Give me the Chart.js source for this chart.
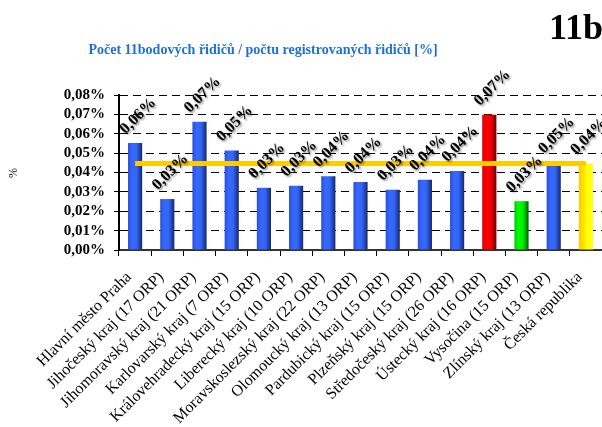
<!DOCTYPE html>
<html lang="cs">
<head>
<meta charset="utf-8">
<title>Počet 11bodových řidičů</title>
<script src="https://cdn.jsdelivr.net/npm/chart.js@4/dist/chart.umd.min.js"></script>
<style>
    body { margin: 0; background: #fff; }
    #wrap { width: 602px; height: 427px; position: relative; }
</style>
</head>
<body>
<div id="wrap"><canvas id="pointsChart" width="602" height="427"></canvas></div>
<script>
const regions = [
    'Hlavní město Praha',
    'Jihočeský kraj (17 ORP)',
    'Jihomoravský kraj (21 ORP)',
    'Karlovarský kraj (7 ORP)',
    'Královehradecký kraj (15 ORP)',
    'Liberecký kraj (10 ORP)',
    'Moravskoslezský kraj (22 ORP)',
    'Olomoucký kraj (13 ORP)',
    'Pardubický kraj (15 ORP)',
    'Plzeňský kraj (15 ORP)',
    'Středočeský kraj (26 ORP)',
    'Ústecký kraj (16 ORP)',
    'Vysočina (15 ORP)',
    'Zlínský kraj (13 ORP)',
    'Česká republika'
];
// podíl řidičů s 11 body v %
const shares = [0.0552, 0.0263, 0.0662, 0.0513, 0.0321, 0.0332, 0.0381, 0.0351, 0.0311, 0.0362, 0.0408, 0.0698, 0.0252, 0.0452, 0.0447];
const nationalAvg = 0.0447;
const yTicks = [0, 0.01, 0.02, 0.03, 0.04, 0.05, 0.06, 0.07, 0.08];

// barvy sloupců: nejvyšší, nejnižší, celá ČR
const barKinds = ['blue', 'blue', 'blue', 'blue', 'blue', 'blue', 'blue', 'blue', 'blue', 'blue', 'blue', 'red', 'green', 'blue', 'yellow'];
const gradients = {
    blue:   ['#2b50d8', '#3668ff', '#3266f6', '#17286e'],
    red:    ['#d80000', '#ff0000', '#f40000', '#6a0000'],
    green:  ['#00c800', '#00ff00', '#00ee00', '#006000'],
    yellow: ['#ffc800', '#ffe000', '#ffff00', '#ffff20']
};

const fmt = v => v.toFixed(2).replace('.', ',') + '%';
const serif = '"Liberation Serif", "Times New Roman", serif';

function barFill(ctx) {
    const kind = barKinds[ctx.dataIndex] || 'blue';
    const stops = gradients[kind];
    const chart = ctx.chart;
    if (ctx.type !== 'data' || !chart.chartArea) return stops[1];
    const x = chart.scales.x.getPixelForValue(ctx.dataIndex);
    const g = chart.ctx.createLinearGradient(x - 7, 0, x + 7, 0);
    g.addColorStop(0, stops[0]);
    g.addColorStop(0.3, stops[1]);
    g.addColorStop(0.6, stops[2]);
    g.addColorStop(1, stops[3]);
    return g;
}

// popisky hodnot nad sloupci, otočené o 45°
const valueLabels = {
    id: 'valueLabels',
    afterDatasetsDraw(chart) {
        const c = chart.ctx;
        const meta = chart.getDatasetMeta(1);
        c.save();
        c.font = 'bold 16px ' + serif;
        c.textAlign = 'center';
        c.textBaseline = 'middle';
        meta.data.forEach((bar, i) => {
            c.save();
            c.translate(bar.x + 3, bar.y - 27);
            c.rotate(-Math.PI / 4);
            c.shadowColor = 'rgba(0,0,0,0.45)';
            c.shadowOffsetX = 1.5;
            c.shadowOffsetY = 1.5;
            c.shadowBlur = 2;
            c.fillStyle = '#000';
            c.fillText(fmt(shares[i]), 0, 0);
            c.restore();
        });
        c.restore();
    }
};

// nadpis, číslo grafu a jednotka osy
const headings = {
    id: 'headings',
    afterDraw(chart) {
        const c = chart.ctx;
        c.save();
        c.fillStyle = '#1f70d6';
        c.font = 'bold 14px ' + serif;
        c.textAlign = 'center';
        c.textBaseline = 'middle';
        c.fillText('Počet 11bodových řidičů / počtu registrovaných řidičů [%]', 263, 50);
        c.fillStyle = '#000';
        c.font = 'bold 36px ' + serif;
        c.textAlign = 'left';
        c.textBaseline = 'alphabetic';
        c.fillText('11b', 549, 39);
        c.font = '12px ' + serif;
        c.translate(14, 173);
        c.rotate(-Math.PI / 2);
        c.textAlign = 'center';
        c.textBaseline = 'middle';
        c.fillText('%', 0, 0);
        c.restore();
    }
};

new Chart(document.getElementById('pointsChart'), {
    type: 'bar',
    data: {
        labels: regions,
        datasets: [{
            type: 'line',
            label: 'Česká republika',
            data: regions.map(() => nationalAvg),
            borderColor: '#ffcc00',
            borderWidth: 5,
            borderCapStyle: 'butt',
            pointRadius: 0,
            order: 0
        }, {
            label: 'Podíl',
            data: shares,
            backgroundColor: barFill,
            borderWidth: 0,
            categoryPercentage: 1,
            barPercentage: 0.44,
            order: 1
        }]
    },
    options: {
        responsive: false,
        animation: false,
        devicePixelRatio: 1,
        layout: { padding: { top: 95, right: 0, left: 0, bottom: 0 } },
        plugins: {
            legend: { display: false },
            tooltip: { enabled: false }
        },
        scales: {
            x: {
                grid: { drawOnChartArea: false, color: '#000', tickLength: 6, lineWidth: 1 },
                border: { color: '#333', width: 2 },
                ticks: {
                    color: '#000',
                    font: { family: serif, size: 16 },
                    minRotation: 45,
                    maxRotation: 45,
                    autoSkip: false,
                    padding: 12,
                    labelOffset: -6
                },
                afterFit: s => { s.height = 177; s.paddingLeft = 0; s.paddingRight = 0; }
            },
            y: {
                min: 0,
                max: 0.08,
                afterBuildTicks: s => { s.ticks = yTicks.map(v => ({ value: v })); },
                grid: { color: '#000', lineWidth: 1, tickLength: 5, tickBorderDash: [] },
                border: { color: '#000', width: 2, dash: [8, 5] },
                ticks: {
                    color: '#000',
                    padding: 9,
                    autoSkip: false,
                    font: { family: serif, size: 15, weight: 'bold' },
                    callback: v => fmt(v)
                },
                afterFit: s => { s.width = 119; }
            }
        }
    },
    plugins: [valueLabels, headings]
});
</script>
</body>
</html>
